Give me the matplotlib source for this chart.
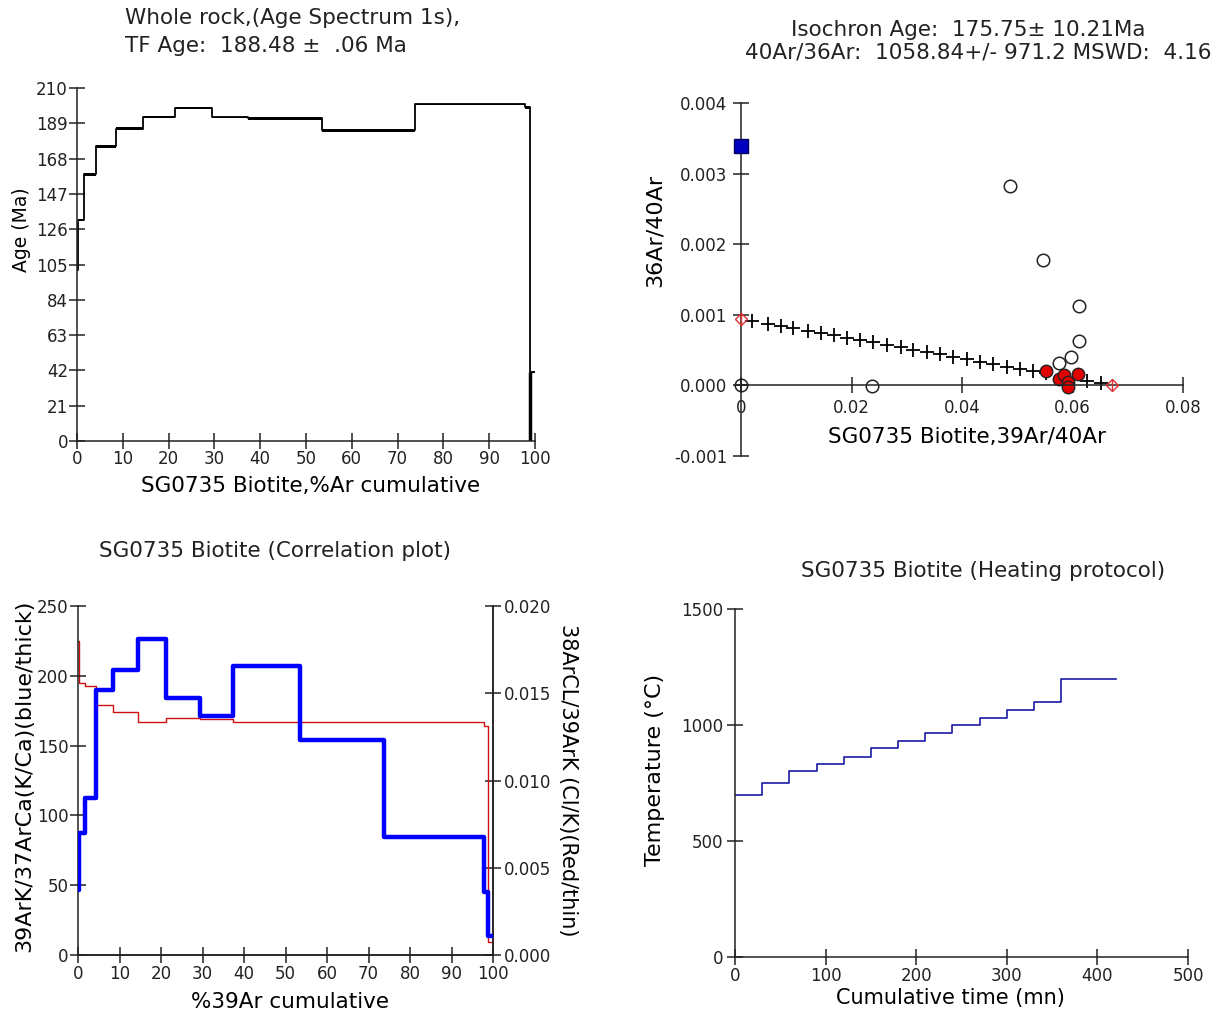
import matplotlib
matplotlib.use("Agg")
import matplotlib.pyplot as plt
import numpy as np

plt.rcParams['font.family'] = ['DejaVu Sans']
plt.rcParams['text.color'] = '#222222'
plt.rcParams['axes.edgecolor'] = '#222222'
plt.rcParams['xtick.color'] = '#222222'
plt.rcParams['ytick.color'] = '#222222'

# cumulative %39Ar step boundaries (13 heating steps)
cum_ar = [0, 0.3, 1.6, 4.25, 8.45, 14.5, 21.3, 29.4, 37.3, 53.5, 73.8, 97.8, 98.9, 100]
ages = [101.5, 131.5, 158.6, 175.2, 185.7, 192.7, 198.0, 192.5, 192.1, 184.9, 200.4, 198.4, 40.8]
age_err = [0.5, 0.4, 1.0, 0.8, 0.9, 0.6, 0.4, 0.3, 0.9, 1.0, 0.3, 0.8, 0.5]

k_ca = [46.5, 87.7, 112.5, 190.0, 204.5, 226.4, 184.4, 171.0, 207.3, 153.8, 84.7, 45.3, 13.4]
cl_k = [0.0180, 0.0156, 0.0154, 0.0143, 0.0139, 0.01335, 0.01357, 0.01353, 0.01334,
        0.01334, 0.01334, 0.01315, 0.00074]

# isochron
iso_open_x = [0.0, 0.0237, 0.0487, 0.0547, 0.0611, 0.0612, 0.0598, 0.0576]
iso_open_y = [0.0, -0.00001, 0.00283, 0.00178, 0.00112, 0.00063, 0.00040, 0.00032]
iso_red_x = [0.0552, 0.0575, 0.0585, 0.0592, 0.0592, 0.0610]
iso_red_y = [0.00020, 0.00009, 0.00015, 0.00005, -0.00002, 0.00016]
atm_36_40 = 1 / 295.5
trapped_40_36 = 1058.84
x_intercept = 0.0672
fit_x = [0.0020, 0.0049, 0.0072, 0.0095, 0.0122, 0.0145, 0.0169, 0.0192, 0.0215,
         0.0239, 0.0264, 0.0289, 0.0312, 0.0337, 0.0360, 0.0384, 0.0409, 0.0432,
         0.0457, 0.0482, 0.0505, 0.0529, 0.0552, 0.0579, 0.0602, 0.0627, 0.0651]

# heating protocol
time_mn = [0, 30, 60, 90, 120, 150, 180, 210, 240, 270, 300, 330, 360, 420]
temp_c = [700, 750, 800, 830, 860, 900, 930, 965, 1000, 1030, 1065, 1100, 1200]

W, H = 1223, 1014
fig = plt.figure(figsize=(W / 100, H / 100), dpi=100)


def box(l, r, b, t):
    return [l / W, 1 - b / H, (r - l) / W, (b - t) / H]


def style(ax, pad_x=1, pad_y=1, right=False):
    ax.spines['top'].set_visible(False)
    if not right:
        ax.spines['right'].set_visible(False)
    for s in ax.spines.values():
        s.set_linewidth(1.1)
    ax.tick_params(direction='inout', length=12, width=1.1, labelsize=12)
    ax.tick_params(axis='x', pad=pad_x)
    ax.tick_params(axis='y', pad=pad_y)


def step_vals(v):
    return list(v) + [v[-1]]


# ---- age spectrum
ax1 = fig.add_axes(box(77, 535, 441, 88))
style(ax1, pad_x=0.5, pad_y=0.5)
a = np.array(step_vals(ages))
e = np.array(step_vals(age_err))
ax1.fill_between(cum_ar, a - e, a + e, step='post', color='black', lw=0)
ax1.step(cum_ar, a, where='post', color='black', lw=1.3)
ax1.vlines(cum_ar[-2], 0, ages[-1], color='black', lw=2.5)
ax1.set_xlim(0, 100)
ax1.set_ylim(0, 210)
ax1.set_xticks(range(0, 101, 10))
ax1.set_yticks(range(0, 211, 21))
ax1.set_ylabel('Age (Ma)', fontsize=13.5, va='center', ha='center')
ax1.yaxis.set_label_coords(-0.122, 0.598)
ax1.set_xlabel('SG0735 Biotite,%Ar cumulative', fontsize=15.5, va='center', ha='center')
ax1.xaxis.set_label_coords(0.511, -0.1275)
fig.text(125 / W, 1 - 18 / H, 'Whole rock,(Age Spectrum 1s),', fontsize=15.5, va='center')
fig.text(125 / W, 1 - 46 / H, 'TF Age:  188.48 \u00b1  .06 Ma', fontsize=15.5, va='center')

# ---- isochron
ax2 = fig.add_axes(box(741, 1183, 456, 103))
style(ax2, pad_x=4, pad_y=4)
ax2.spines['left'].set_position(('data', 0))
ax2.spines['bottom'].set_position(('data', 0))
fy = [(1 / trapped_40_36) * (1 - x / x_intercept) for x in fit_x]
ax2.plot(fit_x, fy, ls='none', marker='+', ms=10, mew=1.3, color='black')
ax2.plot(iso_open_x, iso_open_y, ls='none', marker='o', ms=9, mfc='none',
         mec='#222222', mew=1.1, clip_on=False)
ax2.plot([0], [0], ls='none', marker='+', ms=8, color='#222222', mew=1.1, clip_on=False)
ax2.plot(iso_red_x, iso_red_y, ls='none', marker='o', ms=9, mfc='#e00000',
         mec='#222222', mew=1.0)
ax2.plot([0], [atm_36_40], ls='none', marker='s', ms=9.5, mfc='#0000c0',
         mec='#000060', clip_on=False, zorder=5)
ax2.plot([0, x_intercept], [1 / trapped_40_36, 0], ls='none', marker='D', ms=6,
         mfc='none', mec='#e03030', mew=1.0, clip_on=False, zorder=5)
ax2.plot([0, x_intercept], [1 / trapped_40_36, 0], ls='none', marker='|', ms=8,
         color='#e03030', mew=1.0, clip_on=False, zorder=5)
ax2.set_xlim(0, 0.08)
ax2.set_ylim(-0.001, 0.004)
ax2.set_xticks([0, 0.02, 0.04, 0.06, 0.08])
ax2.set_xticklabels(['0', '0.02', '0.04', '0.06', '0.08'])
yt = [-0.001, 0, 0.001, 0.002, 0.003, 0.004]
ax2.set_yticks(yt)
ax2.set_yticklabels(['%.3f' % v for v in yt])
ax2.set_ylabel('36Ar/40Ar', fontsize=16, va='center', ha='center')
ax2.yaxis.set_label_coords(-0.1946, 0.640)
ax2.set_xlabel('SG0735 Biotite,39Ar/40Ar', fontsize=15.5, va='center', ha='center')
ax2.xaxis.set_label_coords(0.511, 0.054)
fig.text(968 / W, 1 - 30 / H, 'Isochron Age:  175.75\u00b1 10.21Ma', fontsize=15.5,
         ha='center', va='center')
fig.text(978 / W, 1 - 52 / H, '40Ar/36Ar:  1058.84+/- 971.2 MSWD:  4.16', fontsize=15.5,
         ha='center', va='center')

# ---- correlation plot
ax3 = fig.add_axes(box(78, 493, 955, 606))
style(ax3, pad_x=1, pad_y=1, right=True)
ax4 = ax3.twinx()
style(ax4, pad_y=2, right=True)
ax4.spines['left'].set_visible(False)
ax4.step(cum_ar, step_vals(cl_k), where='post', color='#d01010', lw=1.0)
ax3.step(cum_ar, step_vals(k_ca), where='post', color='#0000ff', lw=3.2, zorder=5)
ax3.set_zorder(ax4.get_zorder() + 1)
ax3.patch.set_visible(False)
ax3.set_xlim(0, 100)
ax3.set_ylim(0, 250)
ax4.set_ylim(0, 0.020)
ax3.set_xticks(range(0, 101, 10))
ax3.set_yticks(range(0, 251, 50))
rt = [0, 0.005, 0.010, 0.015, 0.020]
ax4.set_yticks(rt)
ax4.set_yticklabels(['%.3f' % v for v in rt])
ax3.set_ylabel('39ArK/37ArCa(K/Ca)(blue/thick)', fontsize=16, va='center', ha='center')
ax3.yaxis.set_label_coords(-0.130, 0.513)
ax4.set_ylabel('38ArCL/39ArK (Cl/K)(Red/thin)', fontsize=15, rotation=-90,
               va='center', ha='center')
ax4.yaxis.set_label_coords(1.181, 0.50)
ax3.set_xlabel('%39Ar cumulative', fontsize=15.5, va='center', ha='center')
ax3.xaxis.set_label_coords(0.511, -0.1347)
fig.text(275 / W, 1 - 551 / H, 'SG0735 Biotite (Correlation plot)', fontsize=15.5,
         ha='center', va='center')

# ---- heating protocol
ax5 = fig.add_axes(box(735, 1188, 957, 609))
style(ax5, pad_x=1, pad_y=2.6)
ax5.step(time_mn, step_vals(temp_c), where='post', color='#1a1aa6', lw=1.2)
ax5.set_xlim(0, 500)
ax5.set_ylim(0, 1500)
ax5.set_xticks(range(0, 501, 100))
ax5.set_yticks(range(0, 1501, 500))
ax5.set_ylabel('Temperature (\u00b0C)', fontsize=16, va='center', ha='center')
ax5.yaxis.set_label_coords(-0.1766, 0.537)
ax5.set_xlabel('Cumulative time (mn)', fontsize=15, va='center', ha='center')
ax5.xaxis.set_label_coords(0.4746, -0.118)
fig.text(983 / W, 1 - 571 / H, 'SG0735 Biotite (Heating protocol)', fontsize=15.5,
         ha='center', va='center')

fig.savefig('out.png', dpi=100)
